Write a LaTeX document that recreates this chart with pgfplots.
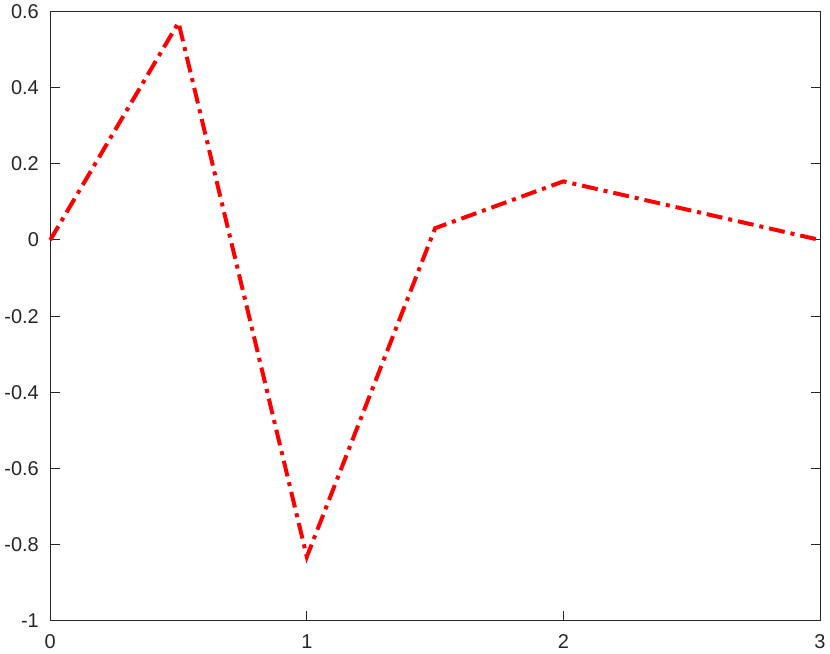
\documentclass[border=0pt]{standalone}
\usepackage{pgfplots}
\pgfplotsset{compat=1.18}
\usepackage{fontspec}
\setmainfont{Liberation Sans}
\definecolor{axgray}{HTML}{262626}

\begin{document}
\begin{tikzpicture}
\begin{axis}[
scale only axis,width=578pt,height=457.5pt,
font=\fontsize{15}{16}\selectfont,
/pgf/number format/assume math mode=true,
axis line style={axgray,line width=0.75pt},
tick style={axgray,line width=0.75pt},
major tick length=7pt,tick align=inside,
xtick pos=bottom,ytick pos=both,
xmin=0,xmax=3,ymin=-1,ymax=0.6,
xtick={0,1,2,3},ytick={-1,-0.8,...,0.61},
yticklabel style={text=axgray,xshift=-5pt},
xticklabel style={text=axgray,yshift=-7pt},
yticklabels={-1,-0.8,-0.6,-0.4,-0.2,0,0.2,0.4,0.6},
clip=false,
]
\addplot[red,line width=3pt,dash pattern=on 12pt off 4.5pt on 3pt off 4.5pt]
coordinates {(0,0) (0.5,0.571) (1,-0.832) (1.5,0.031) (2,0.154) (3,0)};
\end{axis}
\end{tikzpicture}
\end{document}
